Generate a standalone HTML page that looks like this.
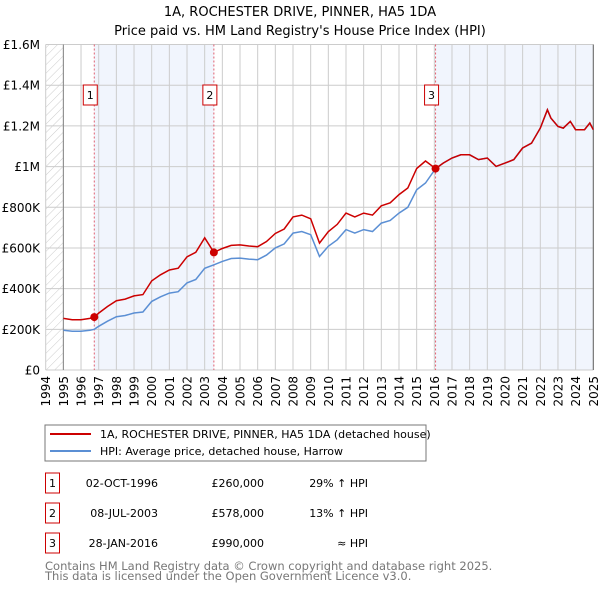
<!DOCTYPE html>
<html><head><meta charset="utf-8"><style>
body{margin:0;background:#fff;font-family:"DejaVu Sans","Liberation Sans",sans-serif}
svg text{font-family:"DejaVu Sans","Liberation Sans",sans-serif}
</style></head><body>
<svg id="c" width="600" height="590" xmlns="http://www.w3.org/2000/svg">
<defs><pattern id="hatch" width="6" height="6" patternUnits="userSpaceOnUse" patternTransform="rotate(45)"><line x1="0" y1="0" x2="0" y2="6" stroke="#ccc" stroke-width="1"/></pattern></defs>
<text x="300" y="16" text-anchor="middle" font-size="13">1A, ROCHESTER DRIVE, PINNER, HA5 1DA</text>
<text x="300" y="35" text-anchor="middle" font-size="13">Price paid vs. HM Land Registry's House Price Index (HPI)</text>
<g id="plot"></g>
<rect x="45" y="425" width="381" height="36" fill="#fff" stroke="#777"/>
<line x1="50" y1="434" x2="91" y2="434" stroke="#cc0000" stroke-width="2"/>
<text x="100" y="438" font-size="11">1A, ROCHESTER DRIVE, PINNER, HA5 1DA (detached house)</text>
<line x1="50" y1="451" x2="91" y2="451" stroke="#5b8fd4" stroke-width="2"/>
<text x="100" y="455" font-size="11">HPI: Average price, detached house, Harrow</text>
<g id="table" font-size="11"></g>
<text x="45" y="570" font-size="11.5" fill="#777">Contains HM Land Registry data © Crown copyright and database right 2025.</text>
<text x="45" y="580" font-size="11.5" fill="#777">This data is licensed under the Open Government Licence v3.0.</text>
</svg>
<script>
const years=[1994,1995,1996,1997,1998,1999,2000,2001,2002,2003,2004,2005,2006,2007,2008,2009,2010,2011,2012,2013,2014,2015,2016,2017,2018,2019,2020,2021,2022,2023,2024,2025];
const yTicks=[0,200,400,600,800,1000,1200,1400,1600];
const yTickLabels=["£0","£200K","£400K","£600K","£800K","£1M","£1.2M","£1.4M","£1.6M"];
const hpiDates=[1995,1995.5,1996,1996.5,1996.75,1997,1997.5,1998,1998.5,1999,1999.5,2000,2000.5,2001,2001.5,2002,2002.5,2003,2003.52,2004,2004.5,2005,2005.5,2006,2006.5,2007,2007.5,2008,2008.5,2009,2009.5,2010,2010.5,2011,2011.5,2012,2012.5,2013,2013.5,2014,2014.5,2015,2015.5,2016.07,2016.5,2017,2017.5,2018,2018.5,2019,2019.5,2020,2020.5,2021,2021.5,2022,2022.4,2022.6,2023,2023.3,2023.7,2024,2024.5,2024.8,2025];
const hpiValues=[195,190,190,195,200,215,240,262,268,280,285,337,360,378,385,428,445,500,517,534,548,550,545,542,565,600,620,673,681,665,558,608,640,690,673,690,681,722,735,771,800,886,919,990,1017,1042,1058,1058,1034,1042,1001,1017,1034,1091,1115,1189,1279,1238,1197,1189,1222,1181,1181,1214,1181];
const saleDates=[1996.75,2003.52,2016.07];
const salePrices=[260,578,990];
const saleLabels=["1","2","3"];
const saleDateText=["02-OCT-1996","08-JUL-2003","28-JAN-2016"];
const salePriceText=["£260,000","£578,000","£990,000"];
const saleHpiText=["29% ↑ HPI","13% ↑ HPI","≈ HPI"];

const X0=45.7,X1=593.3,Y0=370,Y1=44.5;
const xs=t=>X0+(t-1994)/(2025-1994)*(X1-X0);
const ys=v=>Y0-v/1600*(Y0-Y1);
const NS="http://www.w3.org/2000/svg";
const plot=document.getElementById('plot');
function mk(tag,attrs,parent){const e=document.createElementNS(NS,tag);for(const k in attrs)e.setAttribute(k,attrs[k]);(parent||plot).appendChild(e);return e;}
function hpiAt(t){for(let i=0;i<hpiDates.length-1;i++){if(t>=hpiDates[i]&&t<=hpiDates[i+1]){const f=(t-hpiDates[i])/(hpiDates[i+1]-hpiDates[i]);return hpiValues[i]+f*(hpiValues[i+1]-hpiValues[i]);}}return hpiValues[hpiValues.length-1];}

let bg=mk('rect',{x:X0,y:Y1,width:X1-X0,height:Y0-Y1,fill:'#fff'});


let h=mk('rect',{x:X0,y:Y1,width:xs(1995)-X0,height:Y0-Y1,fill:'url(#hatch)'});


let s1=mk('rect',{x:xs(saleDates[0]),y:Y1,width:xs(saleDates[1])-xs(saleDates[0]),height:Y0-Y1,fill:'#eef3fc',opacity:0.8});


let s2=mk('rect',{x:xs(saleDates[2]),y:Y1,width:X1-xs(saleDates[2]),height:Y0-Y1,fill:'#eef3fc',opacity:0.8});


years.forEach(yv=>{const x=xs(yv);
 let l=mk('line',{x1:x,y1:Y1,x2:x,y2:Y0,stroke:'#ccc','stroke-width':1});
 
 
 let t=mk('text',{x:0,y:0,'font-size':12,'text-anchor':'end',transform:`translate(${x+4.5},${Y0+6}) rotate(-90)`});
 t.textContent=yv;
 
 
});
yTicks.forEach((v,i)=>{const y=ys(v);
 let l=mk('line',{x1:X0,y1:y,x2:X1,y2:y,stroke:'#ccc','stroke-width':1});
 
 
 let t=mk('text',{x:40,y:y+4.5,'font-size':12,'text-anchor':'end'});
 t.textContent=yTickLabels[i];
 
 
});
let ax=mk('line',{x1:xs(1995),y1:Y1,x2:xs(1995),y2:Y0,stroke:'#888'});


let rb=mk('line',{x1:X1,y1:Y1,x2:X1,y2:Y0,stroke:'#666'});



saleDates.forEach((d,i)=>{const x=xs(d);
 let l=mk('line',{x1:x,y1:Y1,x2:x,y2:Y0,stroke:'#e06070','stroke-width':1,'stroke-dasharray':'2,2'});
 
 
 let b=mk('rect',{x:x-11,y:85,width:14,height:20,fill:'#fff',stroke:'#cc0000'});
 
 
 let t=mk('text',{x:x-4,y:99,'font-size':11,'text-anchor':'middle'});
 t.textContent=saleLabels[i];
 
 
});

let bp=hpiDates.map((d,i)=>`${i?'L':'M'}${xs(d).toFixed(1)},${ys(hpiValues[i]).toFixed(1)}`).join('');
let bl=mk('path',{d:bp,fill:'none',stroke:'#5b8fd4','stroke-width':1.5});



function factorAt(t){let k=0;for(let i=0;i<saleDates.length;i++){if(t>=saleDates[i])k=i;}return salePrices[k]/hpiAt(saleDates[k]);}
let pts=[];
hpiDates.forEach((d,i)=>{
 saleDates.forEach((sd,k)=>{if(k>0&&d>sd&&(i===0||hpiDates[i-1]<sd)){pts.push([sd,salePrices[k-1]/hpiAt(saleDates[k-1])*hpiAt(sd)]);pts.push([sd,salePrices[k]]);}});
 pts.push([d,hpiValues[i]*factorAt(d)]);
});
let rp=pts.map((p,i)=>`${i?'L':'M'}${xs(p[0]).toFixed(1)},${ys(p[1]).toFixed(1)}`).join('');
let rl=mk('path',{d:rp,fill:'none',stroke:'#cc0000','stroke-width':1.5});


saleDates.forEach((d,i)=>{
 let c=mk('circle',{cx:xs(d),cy:ys(salePrices[i]),r:4,fill:'#cc0000'});
 
 
});

const tbl=document.getElementById('table');
saleDates.forEach((d,i)=>{const y=483+i*30;
 let b=mk('rect',{x:45.5,y:y-10,width:14,height:20,fill:'#fff',stroke:'#cc0000'},tbl);
 
 
 let t=mk('text',{x:52.5,y:y+4,'text-anchor':'middle'},tbl);t.textContent=saleLabels[i];
 
 
 let a=mk('text',{x:158,y:y+4,'text-anchor':'end'},tbl);a.textContent=saleDateText[i];
 
 
 let p=mk('text',{x:264,y:y+4,'text-anchor':'end'},tbl);p.textContent=salePriceText[i];
 
 
 let q=mk('text',{x:368,y:y+4,'text-anchor':'end'},tbl);q.textContent=saleHpiText[i];
 
 
});
</script>
</body></html>
